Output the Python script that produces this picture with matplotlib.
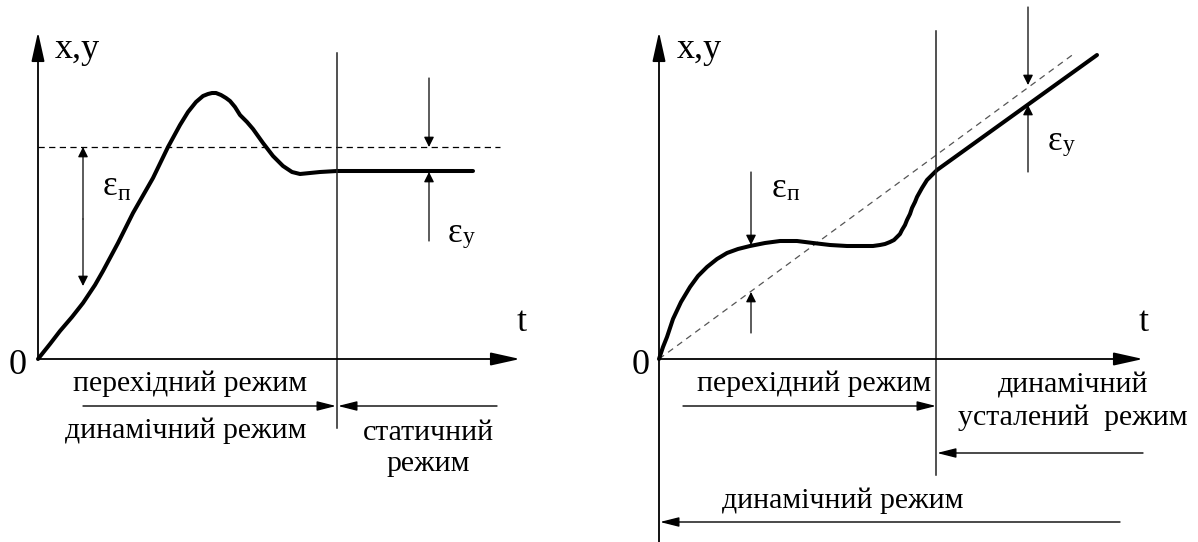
import numpy as np
import matplotlib
matplotlib.use('Agg')
import matplotlib.pyplot as plt

SHRYFT = 'Liberation Serif'

# лівий графік: перехідний процес зі сталою похибкою (t, x від початку координат)
left_t = [0, 12, 22, 34, 45, 57, 65, 80, 95, 115, 130, 142, 150, 158, 165, 170, 174,
          178, 183, 188, 192, 197, 202, 209, 215, 225, 235, 245, 254, 262, 272, 282,
          299, 435]
left_x = [0, 15, 28, 42, 56, 74, 88, 116, 146, 181, 212, 234, 247, 257, 263, 265, 266,
          266, 264, 261, 258, 252, 244, 237, 230, 216, 203, 193, 187, 185, 186, 187,
          188, 188]
left_zadane = 212          # рівень заданого значення (пунктир)
left_zadane_end = 462
left_mezha = 299           # межа перехідного і статичного режиму

# правий графік: відпрацювання лінійного завдання
right_t = [0, 4, 8, 14, 22, 31, 39, 48, 58, 68, 79, 91, 106, 121, 138, 154, 171,
           188, 204, 214, 221, 226, 231, 235, 238, 241, 243, 246, 248, 251, 253, 256,
           258, 263, 268, 273, 278, 438]
right_x = [0, 12, 22, 40, 57, 72, 83, 92, 100, 106, 110, 113, 116, 118, 118, 116, 114,
           113, 113, 113, 114, 115, 117, 119, 122, 125, 129, 134, 139, 145, 151, 157,
           162, 171, 179, 184, 189, 304]
right_zadane_t = [0, 416]
right_zadane_x = [0, 306]
right_mezha = 277

fig = plt.figure(figsize=(11.98, 5.42), dpi=100)
ax1 = fig.add_axes([0, 0, 599/1198, 1])
ax2 = fig.add_axes([599/1198, 0, 599/1198, 1])
ax1.set_xlim(-38, 561)
ax1.set_ylim(-183, 359)
ax2.set_xlim(-60, 539)
ax2.set_ylim(-183, 359)
for a in (ax1, ax2):
    a.axis('off')


def strilka(ax, start, end, hl, hw, lw=1.0, color='black'):
    ax.annotate('', xy=end, xytext=start,
                arrowprops=dict(arrowstyle='-|>,head_length=%g,head_width=%g' % (hl, hw),
                                lw=lw, color=color, shrinkA=0, shrinkB=0,
                                mutation_scale=1))


txt = dict(fontsize=21.5, color='black', family=SHRYFT)
big = dict(fontsize=26, color='black', family=SHRYFT)
eps = dict(fontsize=25, color='black', family=SHRYFT, ha='left', va='baseline')
sub = dict(fontsize=17, color='black', family=SHRYFT, ha='left', va='baseline')

# ---------------- лівий графік ----------------
ax = ax1
strilka(ax, (0, 0), (0, 327), 18, 4, lw=1.3)
strilka(ax, (0, 0), (482, 0), 18, 4, lw=1.3)
ax.plot(left_t, left_x, color='black', lw=2.9, solid_capstyle='round', solid_joinstyle='round')
ax.plot([0, left_zadane_end], [left_zadane, left_zadane], color='black', lw=0.9,
        dashes=(5, 3.5))
ax.plot([left_mezha, left_mezha], [-69, 306], color='#222222', lw=1.1)

# похибки
strilka(ax, (45, 140), (45, left_zadane), 6, 3, lw=0.9)
strilka(ax, (45, 140), (45, 73), 6, 3, lw=0.9)
strilka(ax, (391, 281), (391, left_zadane), 6, 3, lw=0.9)
strilka(ax, (391, 118), (391, 187), 6, 3, lw=0.9)
ax.text(65, 164, 'ε', **eps)
ax.text(80, 159, 'п', **sub)
ax.text(410, 117, 'ε', **eps)
ax.text(425, 116, 'у', **sub)

# режими
strilka(ax, (45, -47), (298, -47), 11.5, 2.9, lw=1.0)
strilka(ax, (459, -47), (300, -47), 11.5, 2.9, lw=1.0)
ax.text(152, -25, 'перехідний режим', ha='center', va='center', **txt)
ax.text(148, -72, 'динамічний режим', ha='center', va='center', **txt)
ax.text(390, -74, 'статичний', ha='center', va='center', **txt)
ax.text(390, -105, 'режим', ha='center', va='center', **txt)

ax.text(-20, -7, '0', ha='center', va='center', **big)
ax.text(17, 301, 'x,y', ha='left', va='baseline', **big)
ax.text(484, 28, 't', ha='center', va='baseline', **big)

# ---------------- правий графік ----------------
ax = ax2
strilka(ax, (0, -183), (0, 327), 18, 4, lw=1.3)
strilka(ax, (0, 0), (484, 0), 18, 4, lw=1.3)
ax.plot(right_zadane_t, right_zadane_x, color='#555555', lw=0.9, dashes=(5, 4))
ax.plot(right_t, right_x, color='black', lw=2.9, solid_capstyle='round', solid_joinstyle='round')
ax.plot([right_mezha, right_mezha], [-116, 328], color='#222222', lw=1.1)

strilka(ax, (92, 187), (92, 114), 6, 3, lw=0.9)
strilka(ax, (92, 26), (92, 67), 6, 3, lw=0.9)
strilka(ax, (369, 352), (369, 274), 6, 3, lw=0.9)
strilka(ax, (369, 187), (369, 254), 6, 3, lw=0.9)
ax.text(113, 162, 'ε', **eps)
ax.text(128, 159, 'п', **sub)
ax.text(389, 209, 'ε', **eps)
ax.text(404, 208, 'у', **sub)

strilka(ax, (24, -47), (277, -47), 11.5, 2.9, lw=1.0)
strilka(ax, (484, -94), (278, -94), 11.5, 2.9, lw=1.0)
strilka(ax, (461, -163), (1, -163), 11.5, 2.9, lw=1.0)
ax.text(155, -25, 'перехідний режим', ha='center', va='center', **txt)
ax.text(414, -27, 'динамічний', ha='center', va='center', **txt)
ax.text(414, -59, 'усталений  режим', ha='center', va='center', **txt)
ax.text(184, -142, 'динамічний режим', ha='center', va='center', **txt)

ax.text(-18, -7, '0', ha='center', va='center', **big)
ax.text(18, 301, 'x,y', ha='left', va='baseline', **big)
ax.text(485, 28, 't', ha='center', va='baseline', **big)

fig.savefig('out.png', dpi=100, facecolor='white')
